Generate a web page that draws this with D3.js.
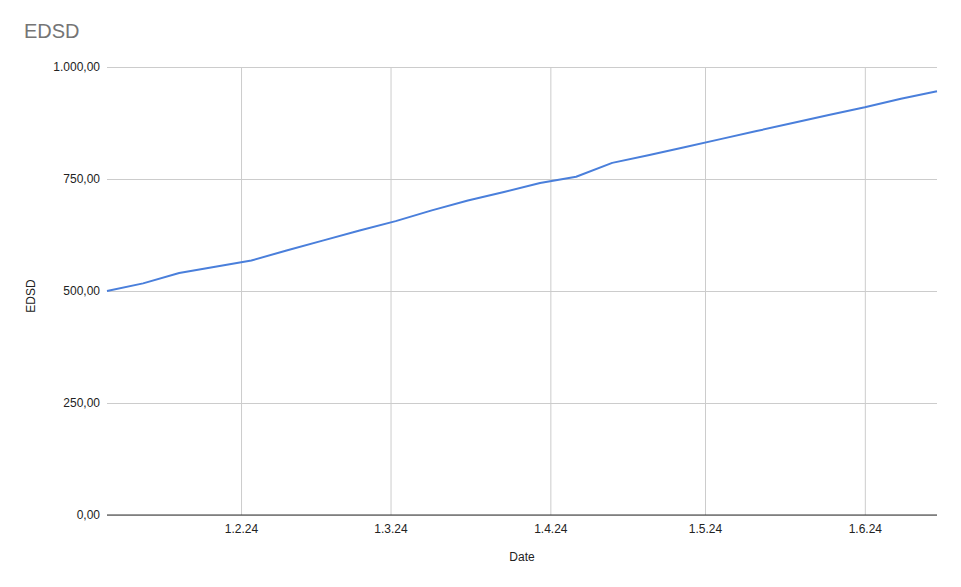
<!DOCTYPE html>
<html>
<head>
<meta charset="utf-8">
<script src="https://cdn.jsdelivr.net/npm/d3@7"></script>
<style>
  html, body { margin: 0; padding: 0; background: #fff; }
  svg { display: block; font-family: "Liberation Sans", Arial, sans-serif; }
</style>
</head>
<body>
<svg id="chart" width="961" height="587"></svg>
<script>
// Weekly dates (Jan 6 – Jun 15, 2024)
const dates = [
  "2024-01-06","2024-01-13","2024-01-20","2024-01-27","2024-02-03","2024-02-10",
  "2024-02-17","2024-02-24","2024-03-02","2024-03-09","2024-03-16","2024-03-23",
  "2024-03-30","2024-04-06","2024-04-13","2024-04-20","2024-04-27","2024-05-04",
  "2024-05-11","2024-05-18","2024-05-25","2024-06-01","2024-06-08","2024-06-15"
];
const values = [
  500, 517, 540, 554, 568, 591, 613, 635, 656, 680, 702, 721,
  741, 755, 786, 803, 821, 839, 857, 875, 893, 910, 929, 946
];
const yTicks = [0, 250, 500, 750, 1000];
const xTicks = ["2024-02-01","2024-03-01","2024-04-01","2024-05-01","2024-06-01"];
const title = "EDSD";
const yLabel = "EDSD";
const xLabel = "Date";

const parse = d3.utcParse("%Y-%m-%d");
const data = dates.map((d, i) => ({ date: parse(d), value: values[i] }));

const svg = d3.select("#chart");
const margin = { left: 107, right: 24, top: 67, bottom: 72 };
const W = 961, H = 587;

const x = d3.scaleUtc()
  .domain(d3.extent(data, d => d.date))
  .range([margin.left, W - margin.right]);
const y = d3.scaleLinear()
  .domain([0, 1000])
  .range([H - margin.bottom, margin.top]);

const fmtNum = v => {
  const s = v.toFixed(2);
  let [int, dec] = s.split(".");
  int = int.replace(/\B(?=(\d{3})+(?!\d))/g, ".");
  return int + "," + dec;
};
const fmtDate = d => `${d.getUTCDate()}.${d.getUTCMonth() + 1}.${String(d.getUTCFullYear()).slice(2)}`;

// Title
svg.append("text")
  .attr("x", 24).attr("y", 38)
  .attr("font-size", 20)
  .attr("fill", "#757575")
  .text(title);

// Horizontal gridlines + y labels
const yAxis = d3.axisLeft(y).tickValues(yTicks).tickSize(-(W - margin.left - margin.right)).tickFormat(fmtNum).tickPadding(7);
const gy = svg.append("g").attr("transform", `translate(${margin.left},0)`).call(yAxis);
gy.select(".domain").remove();
gy.selectAll(".tick line").attr("stroke", "#cccccc").attr("stroke-width", 1);
gy.selectAll(".tick text").attr("font-size", 12).attr("fill", "#222").attr("font-family", "Liberation Sans, Arial, sans-serif");

// Vertical gridlines + x labels
const xAxis = d3.axisBottom(x).tickValues(xTicks.map(parse)).tickSize(-(H - margin.top - margin.bottom)).tickFormat(fmtDate).tickPadding(9);
const gx = svg.append("g").attr("transform", `translate(0,${H - margin.bottom})`).call(xAxis);
gx.select(".domain").remove();
gx.selectAll(".tick line").attr("stroke", "#cccccc").attr("stroke-width", 1);
gx.selectAll(".tick text").attr("font-size", 12).attr("fill", "#222").attr("font-family", "Liberation Sans, Arial, sans-serif");

// Baseline (zero line)
svg.append("line")
  .attr("x1", margin.left).attr("x2", W - margin.right)
  .attr("y1", y(0)).attr("y2", y(0))
  .attr("stroke", "#333").attr("stroke-width", 1);

// Data line
svg.append("path")
  .datum(data)
  .attr("fill", "none")
  .attr("stroke", "#4a7fdb")
  .attr("stroke-width", 2)
  .attr("stroke-linejoin", "round")
  .attr("d", d3.line().x(d => x(d.date)).y(d => y(d.value)));

// Axis titles
svg.append("text")
  .attr("x", (margin.left + W - margin.right) / 2)
  .attr("y", 561)
  .attr("text-anchor", "middle")
  .attr("font-size", 12)
  .attr("fill", "#222")
  .text(xLabel);

svg.append("text")
  .attr("transform", `translate(35,296) rotate(-90)`)
  .attr("text-anchor", "middle")
  .attr("font-size", 12)
  .attr("fill", "#222")
  .text(yLabel);
</script>
</body>
</html>
